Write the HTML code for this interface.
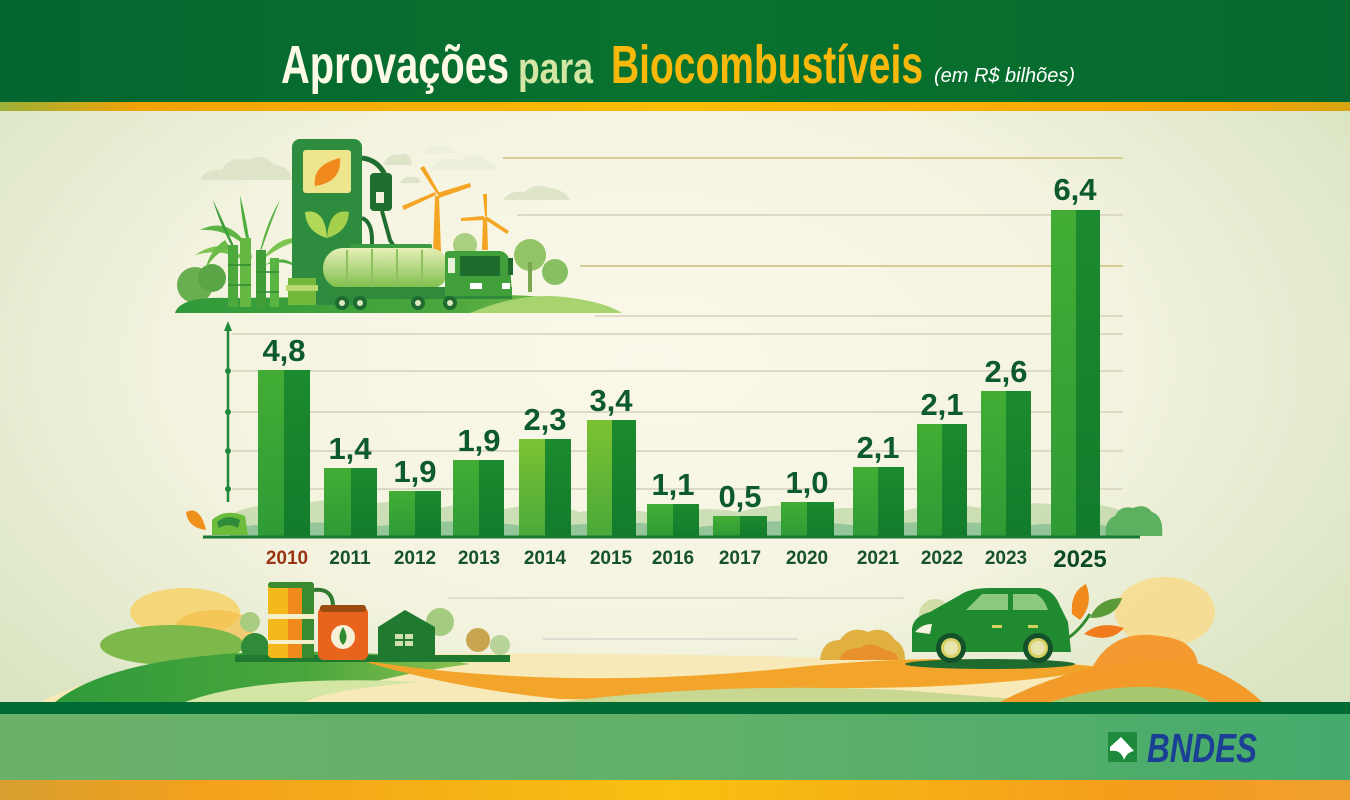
<!DOCTYPE html>
<html><head><meta charset="utf-8"><style>
html,body{margin:0;padding:0;width:1350px;height:800px;overflow:hidden;background:#eef0dc}
svg{display:block}
text{font-family:"Liberation Sans","DejaVu Sans",sans-serif}
</style></head><body>
<svg width="1350" height="800" viewBox="0 0 1350 800" xmlns="http://www.w3.org/2000/svg">
<defs>
 <radialGradient id="bg" cx="0.48" cy="0.45" r="0.62">
  <stop offset="0" stop-color="#fbf8ea"/>
  <stop offset="0.55" stop-color="#f4f3e0"/>
  <stop offset="1" stop-color="#d9e5c2"/>
 </radialGradient>
 <linearGradient id="hdr" x1="0" x2="1">
  <stop offset="0" stop-color="#05662f"/>
  <stop offset="0.5" stop-color="#08722e"/>
  <stop offset="1" stop-color="#06692f"/>
 </linearGradient>
 <linearGradient id="ostripe" x1="0" x2="1">
  <stop offset="0" stop-color="#9cb038"/>
  <stop offset="0.1" stop-color="#f0a208"/>
  <stop offset="0.5" stop-color="#fbbd04"/>
  <stop offset="0.9" stop-color="#f6a204"/>
  <stop offset="1" stop-color="#d8a410"/>
 </linearGradient>
 <linearGradient id="band" x1="0" x2="1">
  <stop offset="0" stop-color="#6bb16a"/>
  <stop offset="0.5" stop-color="#62b068"/>
  <stop offset="1" stop-color="#44ab6c"/>
 </linearGradient>
 <linearGradient id="obot" x1="0" x2="1">
  <stop offset="0" stop-color="#d8a030"/>
  <stop offset="0.15" stop-color="#f3a11c"/>
  <stop offset="0.5" stop-color="#f8c010"/>
  <stop offset="0.85" stop-color="#f49c1c"/>
  <stop offset="1" stop-color="#f0a030"/>
 </linearGradient>
 <linearGradient id="barL" x1="0" x2="0" y1="0" y2="1">
  <stop offset="0" stop-color="#42ad34"/>
  <stop offset="1" stop-color="#2f9b36"/>
 </linearGradient>
 <linearGradient id="barL2" x1="0" x2="0" y1="0" y2="1">
  <stop offset="0" stop-color="#7cc232"/>
  <stop offset="1" stop-color="#4aa93a"/>
 </linearGradient>
 <linearGradient id="barR" x1="0" x2="0" y1="0" y2="1">
  <stop offset="0" stop-color="#1c8a2e"/>
  <stop offset="1" stop-color="#127c2c"/>
 </linearGradient>
 <linearGradient id="tank" x1="0" x2="0" y1="0" y2="1">
  <stop offset="0" stop-color="#e6f0b8"/>
  <stop offset="1" stop-color="#7cbe48"/>
 </linearGradient>
 <linearGradient id="hillG" x1="0" x2="1">
  <stop offset="0" stop-color="#2f9a3a"/>
  <stop offset="0.6" stop-color="#49a63c"/>
  <stop offset="1" stop-color="#8cc050"/>
 </linearGradient>
</defs>

<!-- background -->
<rect x="0" y="0" width="1350" height="800" fill="url(#bg)"/>

<!-- header -->
<rect x="0" y="0" width="1350" height="102" fill="url(#hdr)"/>
<rect x="0" y="102" width="1350" height="9" fill="url(#ostripe)"/>

<!-- title -->
<text x="281" y="83" font-size="54" font-weight="bold" fill="#fdfae6" textLength="228" lengthAdjust="spacingAndGlyphs">Aprovações</text>
<text x="518" y="83" font-size="44" font-weight="bold" fill="#d4e6a4" textLength="75" lengthAdjust="spacingAndGlyphs">para</text>
<text x="611" y="83" font-size="54" font-weight="bold" fill="#f9b90b" textLength="312" lengthAdjust="spacingAndGlyphs">Biocombustíveis</text>
<text x="934" y="82" font-size="20" font-style="italic" fill="#ffffff" textLength="141" lengthAdjust="spacingAndGlyphs">(em R$ bilhões)</text>

<!-- grid lines -->
<g stroke-width="2" fill="none">
 <line x1="503" y1="158" x2="1123" y2="158" stroke="#d8cb96"/>
 <line x1="517" y1="215" x2="1123" y2="215" stroke="#dcd9c4"/>
 <line x1="580" y1="266" x2="1123" y2="266" stroke="#d8cb96"/>
 <line x1="595" y1="316" x2="1123" y2="316" stroke="#dcd9c4"/>
 <line x1="232" y1="334" x2="1123" y2="334" stroke="#dcd9c4"/>
 <line x1="232" y1="371" x2="1123" y2="371" stroke="#dcd9c4"/>
 <line x1="232" y1="412" x2="1123" y2="412" stroke="#dcd9c4"/>
 <line x1="232" y1="451" x2="1123" y2="451" stroke="#dcd9c4"/>
 <line x1="232" y1="489" x2="1123" y2="489" stroke="#dcd9c4"/>
 <line x1="448" y1="598" x2="904" y2="598" stroke="#dcdcd0"/>
 <line x1="543" y1="639" x2="797" y2="639" stroke="#dcdcd0"/>
</g>

<!-- top-left illustration -->
<g>
 <!-- clouds -->
 <g fill="#dde4c8">
  <path d="M200 180 Q205 168 222 170 Q228 156 248 160 Q262 152 275 165 Q290 166 292 180 Z"/>
  <path d="M383 165 Q388 152 400 155 Q410 150 412 165 Z"/>
  <path d="M430 170 Q440 155 460 160 Q475 150 488 162 Q498 164 497 170 Z" fill="#ecefdc"/>
  <path d="M423 153 Q430 144 440 147 Q452 144 455 153 Z" fill="#ecefdc"/>
  <path d="M400 183 Q405 175 412 177 Q420 176 420 183 Z"/>
  <path d="M503 200 Q510 190 525 192 Q535 182 550 188 Q565 190 570 200 Z"/>
 </g>
 <!-- bushes -->
 <circle cx="195" cy="285" r="18" fill="#6aae52"/>
 <circle cx="212" cy="278" r="14" fill="#5aa546"/>
 <circle cx="530" cy="255" r="16" fill="#92c466"/>
 <rect x="528" y="262" width="4" height="30" fill="#7aa850"/>
 <circle cx="555" cy="272" r="13" fill="#86c060"/>
 <circle cx="465" cy="245" r="12" fill="#a8d080"/>
 <!-- windmills -->
 <g fill="#f5a524">
  <polygon points="435,196 439,196 441,252 433,252"/>
  <polygon points="437,194 420,168 424,166 440,194"/>
  <polygon points="437,193 470,183 471,187 439,198"/>
  <polygon points="436,195 404,210 402,206 435,192"/>
  <polygon points="483,218 487,218 488,250 482,250"/>
  <polygon points="485,216 483,194 487,194 487,216"/>
  <polygon points="486,216 509,231 507,234 484,219"/>
  <polygon points="484,216 461,218 461,221 485,220"/>
 </g>
 <!-- ground -->
 <path d="M175 313 Q180 296 230 298 L500 295 Q580 296 622 313 Z" fill="url(#hillG)"/>
 <path d="M470 313 Q520 292 565 297 Q605 302 622 313 Z" fill="#a8d470"/>
 <!-- sugarcane -->
 <g>
  <path d="M200 230 Q230 215 250 250 Q228 228 200 230 Z" fill="#5cb444"/>
  <path d="M195 255 Q225 235 245 260 Q220 248 195 255 Z" fill="#7cc450"/>
  <path d="M213 200 Q225 225 240 260 Q222 232 213 200 Z" fill="#3e9e3a"/>
  <path d="M240 195 Q248 225 252 260 Q242 230 240 195 Z" fill="#4cae3e"/>
  <path d="M280 200 Q265 225 258 260 Q270 225 280 200 Z" fill="#5cb444"/>
  <path d="M305 240 Q280 232 262 260 Q285 242 305 240 Z" fill="#7cc450"/>
  <path d="M300 270 Q285 252 265 265 Q285 258 300 270 Z" fill="#4cae3e"/>
  <path d="M225 240 Q210 250 205 270 Q215 252 230 248 Z" fill="#6aba48"/>
  <rect x="228" y="245" width="10" height="62" fill="#4caa3c"/>
  <rect x="240" y="238" width="11" height="69" fill="#66b845"/>
  <rect x="256" y="250" width="10" height="57" fill="#3f9e38"/>
  <rect x="270" y="258" width="9" height="49" fill="#5ab442"/>
  <g stroke="#2f8a30" stroke-width="1.5">
   <line x1="228" y1="265" x2="251" y2="265"/><line x1="228" y1="285" x2="251" y2="285"/>
   <line x1="256" y1="272" x2="279" y2="272"/><line x1="256" y1="292" x2="279" y2="292"/>
  </g>
 </g>
 <!-- pump -->
 <rect x="292" y="139" width="70" height="166" rx="8" fill="#2e8c3e"/>
 <rect x="303" y="150" width="48" height="43" rx="3" fill="#efe58c"/>
 <path d="M315 186 Q312 165 340 158 Q342 182 315 186 Z" fill="#f08a1c"/>
 <path d="M305 212 Q325 208 327 238 Q306 232 305 212 Z" fill="#b2d858"/>
 <path d="M349 212 Q329 208 327 238 Q348 232 349 212 Z" fill="#a4d04c"/>
 <path d="M362 158 Q378 160 385 175" stroke="#1f6e30" stroke-width="5" fill="none"/>
 <rect x="370" y="173" width="22" height="38" rx="4" fill="#1f6e30"/>
 <rect x="376" y="192" width="8" height="11" fill="#f4f1dc"/>
 <path d="M382 211 L390 240 L395 248" stroke="#1f6e30" stroke-width="4" fill="none"/>
 <path d="M362 218 Q372 222 372 240 L372 250" stroke="#1f6e30" stroke-width="4" fill="none"/>
 <rect x="288" y="278" width="28" height="27" fill="#74b83c"/>
 <rect x="286" y="285" width="32" height="6" fill="#b8d870"/>
 <!-- truck -->
 <rect x="350" y="244" width="82" height="5" rx="2" fill="#3c9a40"/>
 <rect x="323" y="248" width="126" height="41" rx="20" fill="url(#tank)"/>
 <g stroke="#8ec060" stroke-width="2">
  <line x1="347" y1="250" x2="347" y2="288"/><line x1="372" y1="249" x2="372" y2="289"/>
  <line x1="397" y1="249" x2="397" y2="289"/><line x1="422" y1="250" x2="422" y2="288"/>
 </g>
 <rect x="330" y="287" width="182" height="12" fill="#2f8a3c"/>
 <path d="M445 296 V254 Q445 251 450 251 L500 251 Q508 252 510 262 L512 296 Z" fill="#42a03c"/>
 <rect x="460" y="256" width="40" height="20" rx="2" fill="#1e6b2e"/>
 <rect x="448" y="258" width="7" height="15" fill="#e8f0d8"/>
 <rect x="508" y="258" width="5" height="17" fill="#1e6b2e"/>
 <rect x="470" y="283" width="12" height="6" fill="#ffffff"/>
 <rect x="502" y="283" width="8" height="6" fill="#ffffff"/>
 <g fill="#1d6b30">
  <circle cx="342" cy="303" r="7"/><circle cx="360" cy="303" r="7"/>
  <circle cx="418" cy="303" r="7"/><circle cx="450" cy="303" r="7"/>
 </g>
 <g fill="#dfe8c0">
  <circle cx="342" cy="303" r="3"/><circle cx="360" cy="303" r="3"/>
  <circle cx="418" cy="303" r="3"/><circle cx="450" cy="303" r="3"/>
 </g>
</g>

<!-- faint landscape behind bars -->
<path d="M230 537 L230 515 Q260 500 300 505 Q330 495 360 505 Q400 498 440 508 Q470 500 500 510 Q540 500 580 512 Q620 505 660 515 Q700 505 740 512 Q780 500 820 510 Q860 505 900 512 Q940 500 980 508 Q1020 500 1060 505 Q1090 500 1120 510 L1120 537 Z" fill="#a9cc90" opacity="0.55"/>
<path d="M230 537 L230 528 Q300 518 380 526 Q460 516 540 528 Q620 518 700 527 Q780 516 860 526 Q940 518 1020 526 Q1080 520 1120 528 L1120 537 Z" fill="#4fa878" opacity="0.45"/>
<!-- bush right -->
<path d="M1106 536 Q1104 520 1115 516 Q1120 505 1133 508 Q1145 503 1152 512 Q1164 516 1162 536 Z" fill="#5cb060"/>

<!-- left axis -->
<line x1="228" y1="328" x2="228" y2="502" stroke="#1f8a3a" stroke-width="2.5"/>
<polygon points="228,321 224,331 232,331" fill="#1f8a3a"/>
<g fill="#1f8a3a">
 <circle cx="228" cy="371" r="3"/><circle cx="228" cy="412" r="3"/>
 <circle cx="228" cy="451" r="3"/><circle cx="228" cy="489" r="3"/>
</g>
<!-- left decorations -->
<path d="M186 512 Q200 505 206 530 Q188 528 186 512 Z" fill="#f0901c"/>
<path d="M212 535 L212 520 Q225 508 245 516 L248 535 Z" fill="#6cbc3c"/>
<path d="M217 522 Q228 513 240 520 L238 528 Q228 522 219 528 Z" fill="#2f8a3a"/>

<!-- bars -->
<g>
 <rect x="258" y="370" width="26" height="166" fill="url(#barL)"/><rect x="284" y="370" width="26" height="166" fill="url(#barR)"/>
 <rect x="324" y="468" width="27" height="68" fill="url(#barL)"/><rect x="351" y="468" width="26" height="68" fill="url(#barR)"/>
 <rect x="389" y="491" width="26" height="45" fill="url(#barL)"/><rect x="415" y="491" width="26" height="45" fill="url(#barR)"/>
 <rect x="453" y="460" width="26" height="76" fill="url(#barL)"/><rect x="479" y="460" width="25" height="76" fill="url(#barR)"/>
 <rect x="519" y="439" width="26" height="97" fill="url(#barL2)"/><rect x="545" y="439" width="26" height="97" fill="url(#barR)"/>
 <rect x="587" y="420" width="25" height="116" fill="url(#barL2)"/><rect x="612" y="420" width="24" height="116" fill="url(#barR)"/>
 <rect x="647" y="504" width="26" height="32" fill="url(#barL)"/><rect x="673" y="504" width="26" height="32" fill="url(#barR)"/>
 <rect x="713" y="516" width="27" height="20" fill="url(#barL)"/><rect x="740" y="516" width="27" height="20" fill="url(#barR)"/>
 <rect x="781" y="502" width="26" height="34" fill="url(#barL)"/><rect x="807" y="502" width="27" height="34" fill="url(#barR)"/>
 <rect x="853" y="467" width="25" height="69" fill="url(#barL)"/><rect x="878" y="467" width="26" height="69" fill="url(#barR)"/>
 <rect x="917" y="424" width="25" height="112" fill="url(#barL)"/><rect x="942" y="424" width="25" height="112" fill="url(#barR)"/>
 <rect x="981" y="391" width="25" height="145" fill="url(#barL)"/><rect x="1006" y="391" width="25" height="145" fill="url(#barR)"/>
 <rect x="1051" y="210" width="25" height="326" fill="url(#barL)"/><rect x="1076" y="210" width="24" height="326" fill="url(#barR)"/>
</g>
<!-- baseline -->
<line x1="203" y1="537" x2="1140" y2="537" stroke="#1a7a34" stroke-width="3"/>

<!-- value labels -->
<g font-size="31" font-weight="bold" fill="#0d5a2c" text-anchor="middle">
 <text x="284" y="361">4,8</text>
 <text x="350" y="459">1,4</text>
 <text x="415" y="482">1,9</text>
 <text x="479" y="451">1,9</text>
 <text x="545" y="430">2,3</text>
 <text x="611" y="411">3,4</text>
 <text x="673" y="495">1,1</text>
 <text x="740" y="507">0,5</text>
 <text x="807" y="493">1,0</text>
 <text x="878" y="458">2,1</text>
 <text x="942" y="415">2,1</text>
 <text x="1006" y="382">2,6</text>
 <text x="1075" y="200">6,4</text>
</g>

<!-- year labels -->
<g font-size="19" font-weight="bold" fill="#16532c" text-anchor="middle">
 <text x="287" y="564" fill="#9a3412">2010</text>
 <text x="350" y="564">2011</text>
 <text x="415" y="564">2012</text>
 <text x="479" y="564">2013</text>
 <text x="545" y="564">2014</text>
 <text x="611" y="564">2015</text>
 <text x="673" y="564">2016</text>
 <text x="740" y="564">2017</text>
 <text x="807" y="564">2020</text>
 <text x="878" y="564">2021</text>
 <text x="942" y="564">2022</text>
 <text x="1006" y="564">2023</text>
 <text x="1080" y="567" font-size="24" fill="#0b4a24">2025</text>
</g>

<!-- bottom landscape -->
<g>
 <path d="M40 702 Q120 660 300 655 Q600 650 900 660 Q1150 655 1262 702 Z" fill="#f7e9b8"/>
 <ellipse cx="185" cy="612" rx="55" ry="24" fill="#f5d77a"/>
 <ellipse cx="215" cy="628" rx="40" ry="18" fill="#f2bf48" opacity="0.7"/>
 <ellipse cx="172" cy="645" rx="72" ry="20" fill="#7cb84a"/>
 <path d="M55 702 Q110 658 260 652 Q400 650 470 664 Q380 676 300 702 Z" fill="url(#hillG)"/>
 <path d="M185 702 Q260 674 420 682 Q330 690 300 702 Z" fill="#d4e6a4"/>
 <path d="M360 660 Q560 692 790 668 Q950 650 1110 668 Q1000 688 850 688 Q660 700 560 699 Q450 688 360 660 Z" fill="#f3a42a"/>
 <path d="M560 702 Q720 682 900 690 Q1000 698 1060 702 Z" fill="#c8d890"/>
 <ellipse cx="1165" cy="612" rx="50" ry="35" fill="#f8da8c" opacity="0.85"/>
 <path d="M1090 672 Q1110 628 1160 636 Q1200 640 1198 672 Z" fill="#f59a30"/>
 <path d="M1000 702 Q1100 650 1200 664 Q1240 680 1262 702 Z" fill="#f39b2a"/>
 <path d="M1050 702 Q1120 680 1180 690 Q1200 695 1210 702 Z" fill="#a8c870"/>
</g>

<!-- bottom-left tanks & house -->
<g>
 <circle cx="250" cy="622" r="10" fill="#a8cc80"/>
 <circle cx="440" cy="622" r="14" fill="#a4cc80"/>
 <circle cx="478" cy="640" r="12" fill="#c8a650"/>
 <circle cx="500" cy="645" r="10" fill="#b8d49a"/>
 <circle cx="255" cy="647" r="14" fill="#2f8a3a"/>
 <rect x="235" y="655" width="275" height="7" fill="#1f7a30"/>
 <rect x="268" y="582" width="46" height="76" rx="4" fill="#f2b81c"/>
 <rect x="288" y="586" width="14" height="72" fill="#f08a1c"/>
 <rect x="302" y="586" width="12" height="72" fill="#3a8a30"/>
 <rect x="268" y="582" width="46" height="6" rx="3" fill="#3a8a30"/>
 <rect x="268" y="614" width="46" height="5" fill="#f6f0c8"/>
 <rect x="268" y="640" width="46" height="4" fill="#f6f0c8"/>
 <path d="M314 590 Q332 588 333 605" stroke="#2f7a30" stroke-width="4" fill="none"/>
 <rect x="318" y="607" width="50" height="53" rx="6" fill="#e8631c"/>
 <rect x="320" y="605" width="46" height="7" rx="3" fill="#9b4a10"/>
 <circle cx="343" cy="637" r="12" fill="#f6f0d8"/>
 <path d="M343 627 Q350 638 343 645 Q336 638 343 627 Z" fill="#2f8a30"/>
 <polygon points="378,660 378,627 405,610 435,627 435,660" fill="#1f7a30"/>
 <rect x="395" y="634" width="18" height="12" fill="#cfe0b0"/>
 <line x1="404" y1="634" x2="404" y2="646" stroke="#1f7a30" stroke-width="2"/>
 <line x1="395" y1="640" x2="413" y2="640" stroke="#1f7a30" stroke-width="2"/>
</g>

<!-- bottom-right car -->
<g>
 <path d="M820 660 Q822 640 840 640 Q850 625 868 632 Q885 625 895 640 Q905 645 905 660 Z" fill="#e0b040"/>
 <path d="M840 660 Q842 648 860 648 Q872 640 885 650 Q898 652 898 660 Z" fill="#e8902c"/>
 <circle cx="935" cy="615" r="16" fill="#c8d898" opacity="0.8"/>
 <ellipse cx="990" cy="664" rx="85" ry="5" fill="#1f6a2e"/>
 <path d="M912 652 L912 628 Q914 616 930 612 L960 595 Q970 588 990 588 L1040 588 Q1054 590 1060 606 L1068 622 L1071 652 Z" fill="#1f8a30"/>
 <path d="M966 610 L982 594 L1008 594 L1008 610 Z" fill="#8cc880"/>
 <path d="M1013 594 L1036 594 Q1044 598 1048 610 L1013 610 Z" fill="#8cc880"/>
 <path d="M915 632 Q922 624 932 624 L930 634 Z" fill="#f6f4e0"/>
 <rect x="992" y="625" width="10" height="3" fill="#d8d060"/>
 <rect x="1028" y="625" width="10" height="3" fill="#d8d060"/>
 <circle cx="951" cy="648" r="15" fill="#14502a"/>
 <circle cx="951" cy="648" r="10" fill="#d8d060"/>
 <circle cx="951" cy="648" r="7" fill="#e8e4b0"/>
 <circle cx="1038" cy="648" r="15" fill="#14502a"/>
 <circle cx="1038" cy="648" r="10" fill="#d8d060"/>
 <circle cx="1038" cy="648" r="7" fill="#e8e4b0"/>
 <path d="M1068 638 Q1080 630 1090 614" stroke="#2f8a30" stroke-width="3" fill="none"/>
 <path d="M1072 614 Q1070 592 1086 584 Q1094 604 1080 620 Z" fill="#f08a1c"/>
 <path d="M1090 618 Q1098 598 1122 598 Q1116 618 1090 618 Z" fill="#5a9a38"/>
 <path d="M1084 634 Q1100 620 1124 628 Q1110 644 1084 634 Z" fill="#f07a1c"/>
</g>

<!-- bottom band -->
<rect x="0" y="702" width="1350" height="12" fill="#016b35"/>
<rect x="0" y="714" width="1350" height="66" fill="url(#band)"/>
<rect x="0" y="780" width="1350" height="20" fill="url(#obot)"/>

<!-- BNDES logo -->
<rect x="1108" y="732" width="29" height="30" fill="#1e8a3c"/>
<path d="M1110 747 L1121 737 L1134 751 Q1127 752 1124 760 Q1121 749 1110 751 Z" fill="#ffffff"/>
<text x="1147" y="762" font-size="41" font-weight="bold" font-style="italic" fill="#1b3f95" textLength="110" lengthAdjust="spacingAndGlyphs">BNDES</text>
</svg>
</body></html>
